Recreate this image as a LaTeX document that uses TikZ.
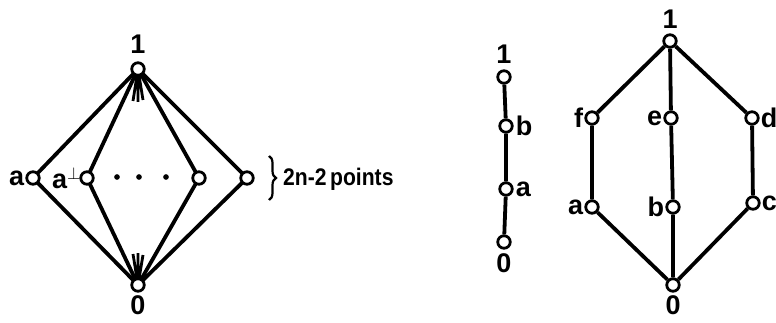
\documentclass[tikz,border=0pt]{standalone}
\usepackage{fontspec}
\usepackage{graphicx}
\setmainfont{Liberation Sans}
\usetikzlibrary{decorations.pathreplacing}
\begin{document}
\begin{tikzpicture}[x=1pt,y=-1pt,
  pt/.style={circle,draw,fill=white,line width=2.8pt,inner sep=0pt,minimum size=12.5pt},
  ln/.style={line width=3.8pt},
  tick/.style={line width=2.8pt},
  lab/.style={font=\fontsize{27}{27}\selectfont\bfseries,inner sep=0pt},
  txt/.style={font=\fontsize{24}{24}\selectfont\bfseries,inner sep=0pt}]
\useasboundingbox (0,0) rectangle (776,323);
% ---------- left lattice ----------
\coordinate (T) at (138,69);
\coordinate (B) at (138,285);
\coordinate (x1) at (33,178);
\coordinate (x2) at (87,178);
\coordinate (x3) at (199,178);
\coordinate (x4) at (247,178);
\foreach \c in {x1,x2,x3,x4} {\draw[ln] (T) -- (\c) -- (B);}
% fans of further lines
\coordinate (ft1) at (133,101);
\coordinate (ft2) at (138,102);
\coordinate (ft3) at (143,100);
\coordinate (fb1) at (133,254);
\coordinate (fb2) at (138,253);
\coordinate (fb3) at (143,255);
\draw[tick] (T) -- (ft1) (T) -- (ft2) (T) -- (ft3);
\draw[tick] (B) -- (fb1) (B) -- (fb2) (B) -- (fb3);
\node[pt] (t) at (T) {};
\node[pt] (b) at (B) {};
\node[pt] (p1) at (x1) {};
\node[pt] (p2) at (x2) {};
\node[pt] (p3) at (x3) {};
\node[pt] (p4) at (x4) {};
\node[lab,above=8pt] (l1) at (t.north) {1};
\node[lab,below=3pt] (l0) at (b.south) {0};
\node[lab,left=1pt] (la) at (p1.west) {a};
\node[lab,left=-2pt] (lap) at (p2.west) {a$^{\perp}$};
\node[circle,fill,inner sep=2pt] (d1) at (117,177) {};
\node[circle,fill,inner sep=2pt] (d2) at (139,177) {};
\node[circle,fill,inner sep=2pt] (d3) at (166,177) {};
\draw[line width=2.2pt,decorate,decoration={brace,amplitude=7pt}] (269,156) -- (269,200);
\node[txt,anchor=west] (pts) at (283,179) {\scalebox{0.88}[1]{2n-2\,points}};
% ---------- chain ----------
\node[pt] (c1) at (504,77) {};
\node[pt] (cb) at (506,126) {};
\node[pt] (ca) at (506,189) {};
\node[pt] (c0) at (504,242) {};
\draw[ln] (c1) -- (cb) -- (ca) -- (c0);
\node[lab,above=6pt] (cl1) at (c1.north) {1};
\node[lab,below=4pt] (cl0) at (c0.south) {0};
\node[lab,right=2pt] (clb) at (cb.east) {b};
\node[lab,right=2pt] (cla) at (ca.east) {a};
% ---------- right lattice ----------
\node[pt] (r1) at (670,41) {};
\node[pt] (rf) at (592,118) {};
\node[pt] (re) at (671,118) {};
\node[pt] (rd) at (752,118) {};
\node[pt] (ra) at (592,207) {};
\node[pt] (rb) at (673,207) {};
\node[pt] (rc) at (753,203) {};
\node[pt] (r0) at (673,285) {};
\draw[ln] (r1) -- (rf) -- (ra) -- (r0);
\draw[ln] (r1) -- (re) -- (rb) -- (r0);
\draw[ln] (r1) -- (rd) -- (rc) -- (r0);
\node[lab,above=5pt] (rl1) at (r1.north) {1};
\node[lab,below=3pt] (rl0) at (r0.south) {0};
\node[lab,left=1pt] (rlf) at (rf.west) {f};
\node[lab,left=1pt] (rle) at (re.west) {e};
\node[lab,right=1pt] (rld) at (rd.east) {d};
\node[lab,left=1pt] (rla) at (ra.west) {a};
\node[lab,left=1pt] (rlb) at (rb.west) {b};
\node[lab,right=1pt] (rlc) at (rc.east) {c};
\end{tikzpicture}
\end{document}
